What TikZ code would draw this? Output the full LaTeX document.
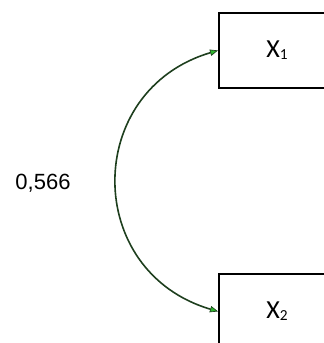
\documentclass[tikz,border=0pt]{standalone}
\usepackage{fontspec}
\setmainfont{Liberation Sans}
\newfontfamily\boxfont{Carlito}
\usepackage{xcolor}
\usepackage{tikz}
\usetikzlibrary{arrows.meta}
\definecolor{curveink}{HTML}{1E3F1E}
\definecolor{tipgreen}{HTML}{2DB52D}

\begin{document}
\begin{tikzpicture}[x=0.75pt,y=-0.75pt,
  varbox/.style={draw=black,line width=1.4pt,fill=white,anchor=north west,
    minimum width=87pt,minimum height=56.25pt,inner sep=0pt,
    font=\boxfont\fontsize{19.5}{22}\selectfont},
  corr/.style={draw=curveink,line width=1.2pt,
    {Triangle[length=6pt,width=4.8pt,fill=tipgreen,line width=0.5pt]}-%
    {Triangle[length=6pt,width=4.8pt,fill=tipgreen,line width=0.5pt]}},
  coeff/.style={font=\fontsize{16.5}{20}\selectfont}
]
  \useasboundingbox (0,0) rectangle (324,343);
  \clip (0,0) rectangle (324,343);

  \node[varbox] (x1) at (218,12)
    {X\raisebox{-1.5pt}{\fontsize{11.5}{12}\selectfont 1}};
  \node[varbox] (x2) at (218,273)
    {X\raisebox{-1.5pt}{\fontsize{11.5}{12}\selectfont 2}};

  \draw[corr] (x1.west) .. controls +(-135,40) and +(-135,-40) .. (x2.west);
  \node[coeff] (r12) at (43,183) {0,566};
\end{tikzpicture}
\end{document}
